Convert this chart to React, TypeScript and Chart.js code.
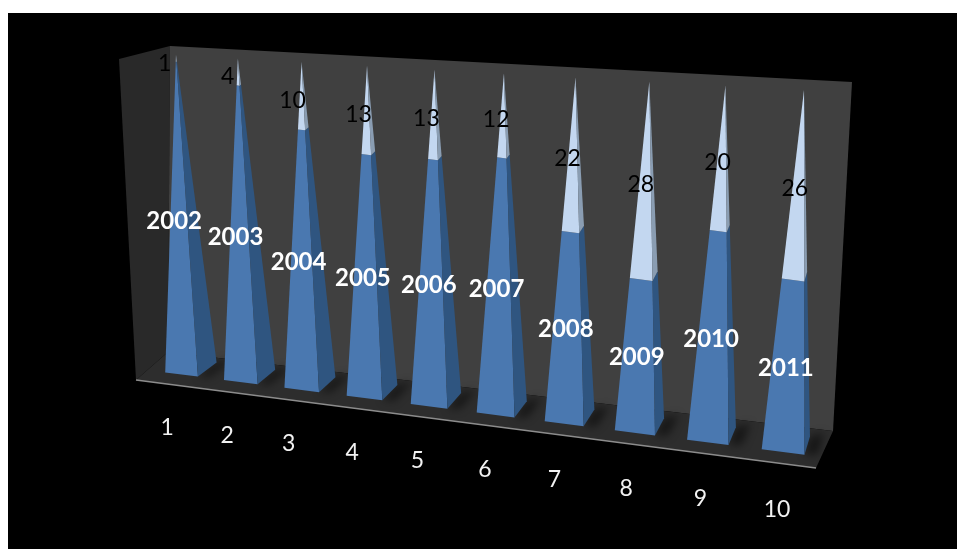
import React, { useEffect, useRef } from "react";
import { Chart, registerables } from "chart.js";

Chart.register(...registerables);

// Data
const categories = ["1", "2", "3", "4", "5", "6", "7", "8", "9", "10"];
const years = [2002, 2003, 2004, 2005, 2006, 2007, 2008, 2009, 2010, 2011];
const counts = [1, 4, 10, 13, 13, 12, 22, 28, 20, 26];

// 100% stacked shares, as the original chart stacks them
const yearShare = years.map((y, i) => (y / (y + counts[i])) * 100);
const countShare = counts.map((c, i) => (c / (years[i] + c)) * 100);

// Layout of the projected 3D box (page pixels)
type P = [number, number];
const ORIGIN: P = [8, 13];
const FLOOR_SRC: P[] = [[0.05, 0], [0.95, 0], [0.05, 1], [0.95, 1]];
const FLOOR_DST: P[] = [[181.5, 374.5], [783, 452], [200.5, 360.4], [789, 433.9]];
const APEX_FIRST: P = [176, 55];
const APEX_LAST: P = [804, 90];
const LEFT_WALL: P[] = [[119, 59], [170, 46], [168, 352], [136, 380]];
const BACK_WALL: P[] = [[170, 46], [852, 82], [833, 431], [168, 352]];
const FLOOR: P[] = [[136, 380], [168, 352], [833, 431], [816, 468]];

function homography(src: P[], dst: P[]) {
  const A: number[][] = [];
  for (let i = 0; i < 4; i++) {
    const [x, y] = src[i];
    const [X, Y] = dst[i];
    A.push([x, y, 1, 0, 0, 0, -x * X, -y * X, X]);
    A.push([0, 0, 0, x, y, 1, -x * Y, -y * Y, Y]);
  }
  for (let c = 0; c < 8; c++) {
    let p = c;
    for (let r = c + 1; r < 8; r++) if (Math.abs(A[r][c]) > Math.abs(A[p][c])) p = r;
    [A[c], A[p]] = [A[p], A[c]];
    for (let r = 0; r < 8; r++) {
      if (r === c) continue;
      const f = A[r][c] / A[c][c];
      for (let k = c; k < 9; k++) A[r][k] -= f * A[c][k];
    }
  }
  const h = A.map((row, i) => row[8] / row[i]);
  return (x: number, y: number): P => {
    const w = h[6] * x + h[7] * y + 1;
    return [(h[0] * x + h[1] * y + h[2]) / w, (h[3] * x + h[4] * y + h[5]) / w];
  };
}

const floorAt = homography(FLOOR_SRC, FLOOR_DST);
const planeAt = homography(
  [[0.05, 0], [0.95, 0], [0.05, 1], [0.95, 1]],
  [floorAt(0.05, 0.5), floorAt(0.95, 0.5), APEX_FIRST, APEX_LAST]
);

const lerp = (a: P, b: P, t: number): P => [a[0] + (b[0] - a[0]) * t, a[1] + (b[1] - a[1]) * t];

function poly(ctx: CanvasRenderingContext2D, pts: P[], fill: string) {
  ctx.beginPath();
  pts.forEach((p, i) => (i ? ctx.lineTo(p[0], p[1]) : ctx.moveTo(p[0], p[1])));
  ctx.closePath();
  ctx.fillStyle = fill;
  ctx.fill();
}

const COLORS = {
  blueFront: "#4a78b0",
  blueSide: "#2f5580",
  lightFront: "#c3d7f0",
  lightSide: "#8a9db2",
  wall: "#404040",
  leftWall: "#292929",
  floor: "#2d2d2d",
  edge: "#8c8c8c",
};

const pyramidPlugin = {
  id: "pyramid3d",
  afterDatasetsDraw(chart: any) {
    const { ctx, chartArea: ca, scales } = chart;
    const U = (px: number) => (px - ca.left) / (ca.right - ca.left);
    const V = (py: number) => (ca.bottom - Math.min(py, ca.bottom)) / (ca.bottom - ca.top);

    ctx.save();
    ctx.translate(-ORIGIN[0], -ORIGIN[1]);

    poly(ctx, LEFT_WALL, COLORS.leftWall);
    poly(ctx, BACK_WALL, COLORS.wall);
    poly(ctx, FLOOR, COLORS.floor);

    ctx.strokeStyle = COLORS.edge;
    ctx.lineWidth = 1.5;
    ctx.beginPath();
    ctx.moveTo(FLOOR[0][0], FLOOR[0][1]);
    ctx.lineTo(FLOOR[3][0], FLOOR[3][1]);
    ctx.stroke();

    const lower = chart.getDatasetMeta(0).data;
    const upper = chart.getDatasetMeta(1).data;

    const geometry = lower.map((el: any) => {
      const { x, width } = el.getProps(["x", "width"], true);
      const u = U(x);
      const hw = (width / (ca.right - ca.left)) / 2;
      const fl = floorAt(u - hw, 0);
      const fr = floorAt(u + hw, 0);
      const br = floorAt(u + hw, 1);
      const bl = floorAt(u - hw, 1);
      return { u, fl, fr, br, bl, apex: planeAt(u, 1), c0: planeAt(u, 0) };
    });

    // soft contact shadows on the floor
    ctx.save();
    ctx.filter = "blur(4px)";
    geometry.forEach((g: any) => {
      const off = floorAt(g.u + 0.045, 0.1);
      const off2 = floorAt(g.u + 0.045, 1.3);
      poly(ctx, [g.fr, off, off2, g.br], "rgba(0,0,0,0.5)");
    });
    ctx.restore();

    const heightT = (g: any, u: number, v: number) => {
      const c = planeAt(u, v);
      return (g.c0[1] - c[1]) / (g.c0[1] - g.apex[1]);
    };

    geometry.forEach((g: any, i: number) => {
      const yTop = lower[i].getProps(["y"], true).y;
      const t = heightT(g, g.u, V(yTop));
      const fl2 = lerp(g.fl, g.apex, t);
      const fr2 = lerp(g.fr, g.apex, t);
      const br2 = lerp(g.br, g.apex, t);
      poly(ctx, [g.fl, g.fr, fr2, fl2], COLORS.blueFront);
      poly(ctx, [g.fr, g.br, br2, fr2], COLORS.blueSide);
      poly(ctx, [fl2, fr2, g.apex], COLORS.lightFront);
      poly(ctx, [fr2, br2, g.apex], COLORS.lightSide);
    });

    // value labels, centred on each stacked segment
    ctx.textAlign = "center";
    ctx.textBaseline = "middle";
    geometry.forEach((g: any, i: number) => {
      const top0 = V(lower[i].getProps(["y"], true).y);
      const top1 = V(upper[i].getProps(["y"], true).y);
      const a = planeAt(g.u, top0 / 2);
      ctx.font = "bold 24px Lato";
      ctx.fillStyle = "#ffffff";
      ctx.fillText(String(years[i]), a[0] - 10 + 6 * g.u, a[1] + 3 + 5 * g.u);
      const b = planeAt(g.u, (top0 + top1) / 2);
      ctx.font = "23px Lato";
      ctx.fillStyle = "#000000";
      ctx.fillText(String(counts[i]), b[0] - 12 + 8 * g.u, b[1] + 5);
    });

    // category axis labels, taken from the scale's ticks
    const xs = scales.x;
    ctx.font = "23px Lato";
    ctx.fillStyle = "#f2f2f2";
    xs.ticks.forEach((tick: any, i: number) => {
      const u = U(xs.getPixelForTick(i));
      const p = floorAt(u, -1);
      ctx.fillText(xs.getLabelForValue(tick.value), p[0] + 6 - 6 * u, p[1] + 38);
    });

    ctx.restore();
  },
};

export default function App() {
  const ref = useRef<HTMLCanvasElement | null>(null);
  useEffect(() => {
    if (!ref.current) return;
    const chart = new Chart(ref.current, {
      type: "bar",
      data: {
        labels: categories,
        datasets: [
          { label: "Year", data: yearShare, backgroundColor: "transparent", stack: "s" },
          { label: "Count", data: countShare, backgroundColor: "transparent", stack: "s" },
        ],
      },
      options: {
        animation: false,
        responsive: false,
        maintainAspectRatio: false,
        layout: { padding: 0 },
        datasets: { bar: { barPercentage: 0.56, categoryPercentage: 1 } },
        plugins: { legend: { display: false }, tooltip: { enabled: false } },
        scales: {
          x: { stacked: true, ticks: { display: false }, grid: { display: false }, border: { display: false } },
          y: {
            stacked: true,
            min: 97.5,
            max: 100,
            ticks: { display: false },
            grid: { display: false },
            border: { display: false },
          },
        },
      },
      plugins: [pyramidPlugin],
    } as any);
    return () => chart.destroy();
  }, []);
  return (
    <div style={{ position: "fixed", left: ORIGIN[0], top: ORIGIN[1], width: 949, height: 536, background: "#000" }}>
      <canvas ref={ref} width={949} height={536} style={{ display: "block" }} />
    </div>
  );
}
